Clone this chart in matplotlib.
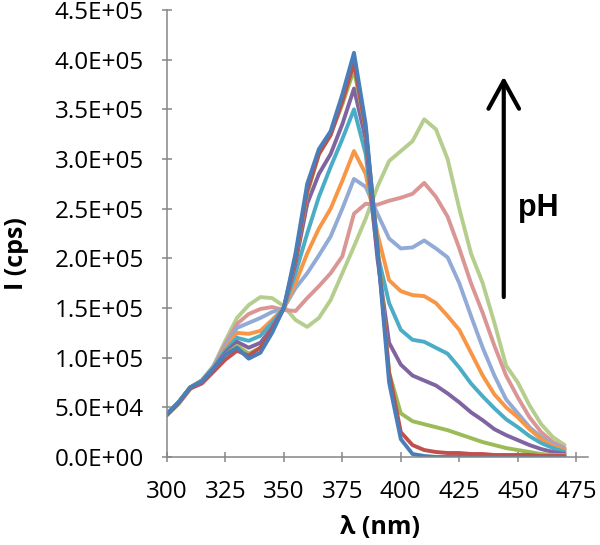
import matplotlib
matplotlib.use('Agg')
import matplotlib.pyplot as plt
from matplotlib.ticker import FuncFormatter

# wavelength grid (nm)
wl = [300, 305, 310, 315, 320, 325, 330, 335, 340, 345,
      350, 355, 360, 365, 370, 375, 380, 385, 390, 395,
      400, 405, 410, 415, 420, 425, 430, 435, 440, 445,
      450, 455, 460, 465, 470]

# intensities in units of 1e5 cps
blue = [0.43, 0.55, 0.70, 0.76, 0.89, 1.03, 1.10, 0.99, 1.05, 1.25,
        1.50, 2.05, 2.75, 3.10, 3.28, 3.65, 4.07, 3.35, 2.10, 0.75,
        0.18, 0.03, 0.01, 0.0, 0.0, 0.0, 0.0, 0.0, 0.0, 0.0,
        0.0, 0.0, 0.0, 0.0, 0.0]
red = [0.42, 0.54, 0.69, 0.74, 0.86, 0.98, 1.07, 1.02, 1.10, 1.28,
       1.50, 2.00, 2.68, 3.05, 3.24, 3.58, 3.97, 3.30, 2.10, 0.85,
       0.25, 0.12, 0.07, 0.05, 0.04, 0.04, 0.03, 0.03, 0.02, 0.02,
       0.02, 0.02, 0.01, 0.01, 0.01]
green = [0.43, 0.55, 0.70, 0.76, 0.88, 1.03, 1.12, 1.04, 1.10, 1.27,
         1.50, 2.00, 2.65, 3.05, 3.25, 3.55, 3.90, 3.30, 2.15, 0.85,
         0.44, 0.36, 0.33, 0.30, 0.27, 0.23, 0.19, 0.15, 0.12, 0.09,
         0.07, 0.05, 0.03, 0.02, 0.02]
purple = [0.43, 0.55, 0.70, 0.76, 0.89, 1.05, 1.16, 1.10, 1.15, 1.30,
          1.50, 1.95, 2.55, 2.85, 3.05, 3.35, 3.71, 3.20, 2.00, 1.15,
          0.93, 0.82, 0.77, 0.72, 0.64, 0.55, 0.45, 0.37, 0.28, 0.22,
          0.17, 0.12, 0.08, 0.05, 0.03]
teal = [0.43, 0.55, 0.70, 0.77, 0.90, 1.07, 1.20, 1.17, 1.22, 1.35,
        1.50, 1.85, 2.25, 2.62, 2.92, 3.20, 3.50, 3.05, 2.05, 1.55,
        1.28, 1.18, 1.16, 1.10, 1.04, 0.90, 0.74, 0.61, 0.49, 0.38,
        0.30, 0.21, 0.14, 0.09, 0.05]
orange = [0.43, 0.55, 0.70, 0.77, 0.90, 1.09, 1.25, 1.24, 1.27, 1.38,
          1.50, 1.75, 2.05, 2.30, 2.50, 2.78, 3.08, 2.85, 2.25, 1.78,
          1.67, 1.63, 1.62, 1.55, 1.42, 1.28, 1.05, 0.82, 0.63, 0.50,
          0.40, 0.28, 0.18, 0.11, 0.07]
lightblue = [0.43, 0.55, 0.70, 0.77, 0.91, 1.12, 1.30, 1.35, 1.40, 1.46,
             1.50, 1.70, 1.85, 2.03, 2.22, 2.50, 2.80, 2.72, 2.45, 2.20,
             2.10, 2.11, 2.18, 2.10, 2.01, 1.75, 1.42, 1.10, 0.82, 0.58,
             0.44, 0.30, 0.20, 0.13, 0.08]
pink = [0.43, 0.54, 0.69, 0.77, 0.91, 1.14, 1.34, 1.44, 1.49, 1.51,
        1.48, 1.47, 1.60, 1.72, 1.85, 2.02, 2.45, 2.55, 2.54, 2.58,
        2.61, 2.65, 2.76, 2.62, 2.42, 2.10, 1.75, 1.45, 1.12, 0.82,
        0.60, 0.40, 0.25, 0.15, 0.09]
lightgreen = [0.42, 0.53, 0.68, 0.77, 0.92, 1.17, 1.40, 1.53, 1.61, 1.60,
              1.52, 1.38, 1.31, 1.40, 1.58, 1.85, 2.12, 2.40, 2.72, 2.98,
              3.08, 3.18, 3.40, 3.30, 3.00, 2.50, 2.05, 1.75, 1.35, 0.92,
              0.75, 0.52, 0.33, 0.20, 0.12]

# drawn from back to front
series = [(lightgreen, '#B5CE8E'), (pink, '#D99694'), (lightblue, '#92AAD6'),
          (orange, '#F79646'), (teal, '#4BACC6'), (purple, '#8064A2'),
          (green, '#9BBB59'), (red, '#C0504D'), (blue, '#4A7EBB')]

plt.rcParams['font.family'] = ['Open Sans', 'DejaVu Sans']

fig = plt.figure(figsize=(6, 5.45), dpi=100)
ax = fig.add_axes([0.278, 0.1615, 0.702, 0.82])

for vals, col in series:
    ax.plot(wl, [v * 1e5 for v in vals], color=col, lw=2.8,
            solid_joinstyle='round', solid_capstyle='round')

ax.set_xlim(300, 480)
ax.set_ylim(0, 4.5e5)
ax.set_xticks(range(300, 476, 25))
ax.set_yticks([i * 0.5e5 for i in range(10)])
ax.yaxis.set_major_formatter(FuncFormatter(lambda v, p: '{:.1E}'.format(v)))

for s in ['top', 'right']:
    ax.spines[s].set_visible(False)
for s in ['left', 'bottom']:
    ax.spines[s].set_color('#868686')
    ax.spines[s].set_linewidth(1.1)
ax.tick_params(direction='inout', length=7, width=1.1, color='#868686',
               labelsize=17.5, labelcolor='black')
ax.tick_params(axis='y', pad=13)
ax.tick_params(axis='x', pad=13)

fig.text(0.633, 0.033, 'λ (nm)', ha='center', va='center', fontsize=18, fontweight='bold')
fig.text(0.028, 0.534, 'I (cps)', ha='center', va='center', rotation=90,
         fontsize=18, fontweight='bold')

# pH arrow
ax.annotate('', xy=(444, 3.83e5), xytext=(444, 1.61e5),
            arrowprops=dict(arrowstyle='->,head_length=1.0,head_width=0.55',
                            lw=3, color='black', mutation_scale=20,
                            shrinkA=0, shrinkB=0))
fig.text(0.863, 0.618, 'pH', ha='left', va='center', fontsize=22,
         fontweight='bold', family='Liberation Sans')

fig.savefig('out.png', dpi=100)
